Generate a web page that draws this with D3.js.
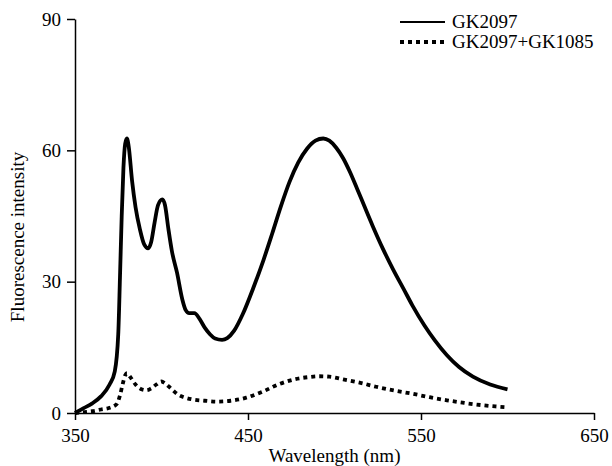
<!DOCTYPE html>
<meta charset="utf-8">
<style>
body { margin: 0; background: #fff; }
.axis path, .axis line { stroke: #000; stroke-width: 1.5px; }
.line { fill: none; stroke: #000; stroke-width: 3.8px; }
.dotted { stroke-dasharray: 4, 4; }
</style>
<body>
<script src="https://d3js.org/d3.v7.min.js"></script>
<script>

// wavelength (nm) sample points for each series
let wlSolid = [350, 355, 360, 365, 370, 373, 375, 376, 377, 378, 379, 380, 381, 383, 385, 387.5, 390, 392.3, 394, 396, 398, 400.5, 402, 404, 406, 409, 412, 414, 416, 419, 422, 425, 428, 431, 435, 438, 442, 447, 453, 459, 464, 469, 474, 479, 484, 489, 493.5, 497, 501, 505, 509, 513, 517, 522, 528, 534, 540, 545, 552, 558, 565, 572, 580, 590, 600];
let gk2097 = [0, 1.1, 2.2, 3.8, 6.5, 9.5, 18, 31, 45, 56, 61.5, 62.7, 61, 53, 47, 42, 38.5, 37.6, 39, 43.5, 47.5, 48.8, 47.5, 42, 37, 32, 26, 23.5, 22.8, 22.8, 21.5, 19.5, 18, 17, 16.7, 17.1, 18.8, 22.6, 28.5, 35, 41, 47.2, 52.8, 57.2, 60.3, 62.2, 62.7, 62.2, 60.6, 58.2, 55, 51.3, 47.5, 42.8, 37.5, 32.7, 28.3, 24.6, 20, 16.6, 13.2, 10.5, 8.3, 6.5, 5.4];

let wlDotted = [350, 355, 360, 365, 370, 374, 376, 377.5, 379, 380, 382, 385, 388, 391.4, 394, 397, 400, 402, 406, 410, 413, 418, 425, 432, 440, 449, 458, 468, 477, 485, 491, 497, 505, 515, 524, 535, 545, 555, 565, 575, 585, 593, 600];
let gk2097gk1085 = [0, 0.2, 0.4, 0.8, 1.2, 2, 4, 6.5, 8.6, 9.1, 8.2, 6.5, 5.5, 5.2, 5.6, 6.5, 7.2, 6.8, 5.4, 4.1, 3.6, 3.1, 2.8, 2.6, 2.8, 3.5, 4.8, 6.6, 7.7, 8.2, 8.4, 8.3, 7.7, 6.9, 6.0, 5.1, 4.4, 3.6, 2.9, 2.3, 1.8, 1.5, 1.3];

let xTicks = [350, 450, 550, 650];
let yTicks = [0, 30, 60, 90];
let seriesNames = ["GK2097", "GK2097+GK1085"];

let margin = {top: 19, right: 18, bottom: 53, left: 75},
    width = 612 - margin.left - margin.right,
    height = 466 - margin.top - margin.bottom;

let svg = d3.select("body").append("svg")
    .attr("width", 612)
    .attr("height", 466)
    .append("g")
    .attr("transform", "translate(" + margin.left + "," + margin.top + ")");

let x = d3.scaleLinear().domain([350, 650]).range([0, width]);
let y = d3.scaleLinear().domain([0, 90]).range([height, 0]);

// set serif font straight on each text node
function serif(sel) {
    sel.style("font-family", "'Liberation Serif'")
        .style("font-size", "19px")
        .style("fill", "#000");
}

// axes
svg.append("g")
    .attr("class", "axis")
    .attr("transform", "translate(0," + height + ")")
    .call(d3.axisBottom(x).tickValues(xTicks).tickSize(7).tickSizeOuter(0).tickPadding(9))
    .selectAll("text").call(serif);

svg.append("g")
    .attr("class", "axis")
    .call(d3.axisLeft(y).tickValues(yTicks).tickSize(8).tickSizeOuter(0).tickPadding(6))
    .selectAll("text").call(serif);

// the data lines
let valueline = d3.line()
    .x(function (d) { return x(d[0]); })
    .y(function (d) { return y(d[1]); })
    .curve(d3.curveMonotoneX);

svg.append("path")
    .datum(d3.zip(wlSolid, gk2097))
    .attr("class", "line")
    .attr("d", valueline);

svg.append("path")
    .datum(d3.zip(wlDotted, gk2097gk1085))
    .attr("class", "line dotted")
    .attr("d", valueline);

// axis titles
svg.append("text")
    .attr("x", width / 2)
    .attr("y", height + 49)
    .attr("text-anchor", "middle")
    .call(serif)
    .text("Wavelength (nm)");

svg.append("text")
    .attr("transform", "translate(" + (-51) + "," + (237 - margin.top) + ") rotate(-90)")
    .attr("text-anchor", "middle")
    .call(serif)
    .text("Fluorescence intensity");

// legend
let legend = svg.selectAll(".legend").data(seriesNames)
    .enter().append("g")
    .attr("class", "legend")
    .attr("transform", function (d, i) { return "translate(325," + (3 + i * 20) + ")"; });

legend.append("line")
    .attr("class", function (d, i) { return i ? "line dotted" : "line"; })
    .attr("x1", 0).attr("x2", 45)
    .attr("y1", 0).attr("y2", 0)
    .style("stroke-width", function (d, i) { return i ? "3.8px" : "2px"; });

legend.append("text")
    .attr("x", 52)
    .attr("y", 6)
    .call(serif)
    .text(function (d) { return d; });

</script>
</body>
